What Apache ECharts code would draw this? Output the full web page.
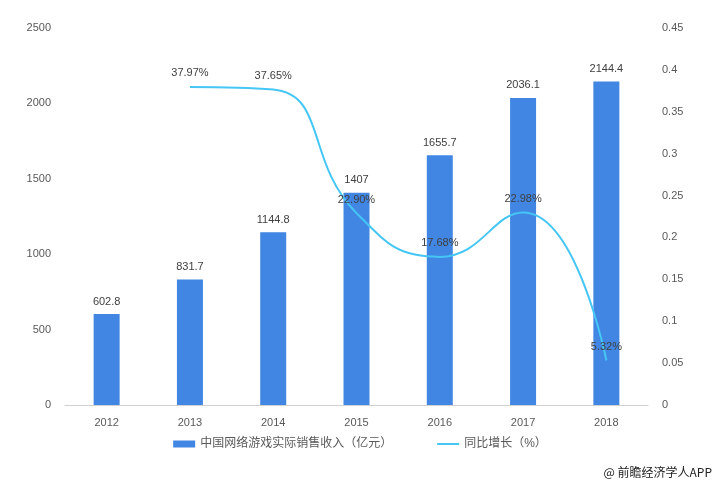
<!DOCTYPE html>
<html><head><meta charset="utf-8">
<script src="https://cdn.jsdelivr.net/npm/echarts@6/dist/echarts.min.js"></script>
<style>html,body{margin:0;padding:0;background:#fff}#c{width:720px;height:485px}</style>
</head><body><div id="c"></div>
<script>
var years = ['2012','2013','2014','2015','2016','2017','2018'];
var revenue = [602.8, 831.7, 1144.8, 1407, 1655.7, 2036.1, 2144.4];
var growth = ['-', 0.3797, 0.3765, 0.2290, 0.1768, 0.2298, 0.0532];
var growthLabels = ['', '37.97%', '37.65%', '22.90%', '17.68%', '22.98%', '5.32%'];
var font = '"Liberation Sans", "Noto Sans CJK SC", sans-serif';
var chart = echarts.init(document.getElementById('c'));
chart.setOption({
  animation: false,
  textStyle: {fontFamily: font},
  grid: {left: 65, right: 72, top: 28, bottom: 80},
  legend: {
    bottom: 30, left: 'center', itemGap: 45, itemWidth: 22, itemHeight: 7,
    textStyle: {color: '#595959', fontSize: 12, fontFamily: font},
    data: [{name: '中国网络游戏实际销售收入（亿元）', icon: 'rect'},
           {name: '同比增长（%）', icon: 'path://M0,0 L22,0 L22,2 L0,2 Z', itemStyle: {color: '#45c6f5', opacity: 1}}]
  },
  graphic: [{type: 'text', right: 8, bottom: 7, style: {text: '@ 前瞻经济学人APP', fill: '#222', font: '12px "Noto Sans CJK SC", sans-serif'}}],
  xAxis: {
    type: 'category', data: years,
    axisLine: {lineStyle: {color: '#d0d0d0'}}, axisTick: {show: false},
    axisLabel: {color: '#595959', fontSize: 11, margin: 12}
  },
  yAxis: [
    {type: 'value', min: 0, max: 2500, interval: 500, splitLine: {show: false},
     axisLine: {show: false}, axisTick: {show: false},
     axisLabel: {color: '#595959', fontSize: 11, margin: 14, formatter: function(v){return String(v);}}},
    {type: 'value', min: 0, max: 0.45, interval: 0.05, splitLine: {show: false},
     axisLine: {show: false}, axisTick: {show: false},
     axisLabel: {color: '#595959', fontSize: 11, margin: 14, formatter: function(v){return String(+v.toFixed(2));}}}
  ],
  series: [
    {name: '中国网络游戏实际销售收入（亿元）', type: 'bar', data: revenue, barWidth: 26,
     itemStyle: {color: '#4186e3'},
     label: {show: true, position: 'top', color: '#404040', fontSize: 11, distance: 7}},
    {name: '同比增长（%）', type: 'line', yAxisIndex: 1, data: growth, smooth: 0.5,
     showSymbol: true, symbol: 'circle', symbolSize: 0,
     lineStyle: {color: '#45c6f5', width: 2}, itemStyle: {color: '#45c6f5'},
     label: {show: true, position: 'top', color: '#404040', fontSize: 11, distance: 8,
       formatter: function(p){return growthLabels[p.dataIndex];}}}
  ]
});
</script></body></html>
